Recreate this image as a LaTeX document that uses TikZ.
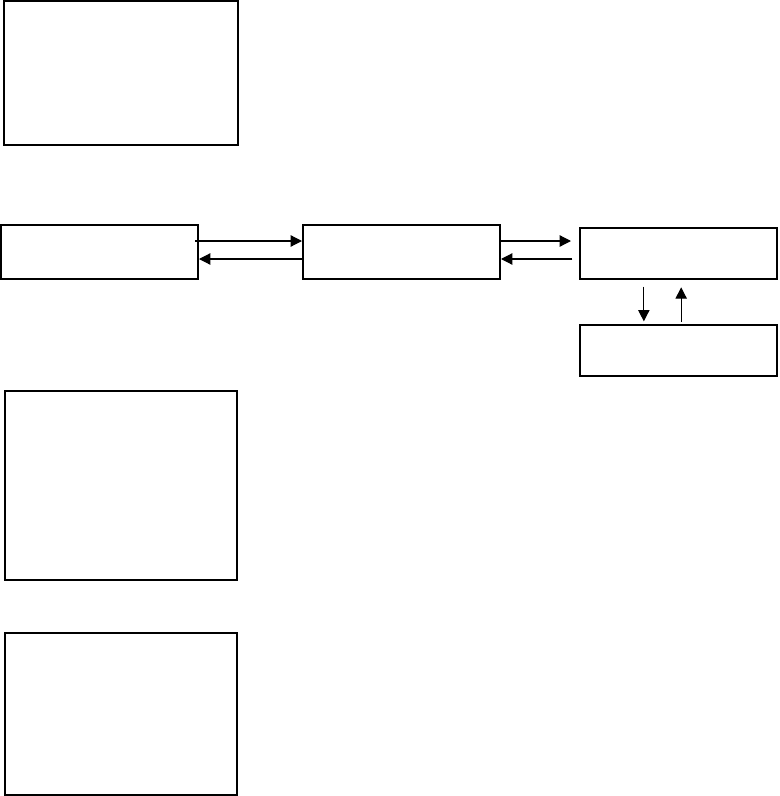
\documentclass[tikz,border=0pt]{standalone}
\usetikzlibrary{arrows.meta}
\begin{document}
\begin{tikzpicture}[x=0.75pt, y=-0.75pt,
		box/.style 2 args={draw, line width=1.5pt, inner sep=0pt, minimum width=#1*0.75pt, minimum height=#2*0.75pt},
		link/.style={line width=0.9pt, -{Triangle[length=8.5pt, width=8.5pt]}}]
		\useasboundingbox (0,0) rectangle (779,796);

		\node [box={234}{144}]	(top)	at (121, 73) {};

		\node [box={197}{54}]	(left)	at (99.5, 252) {};
		\node [box={197}{54}]	(mid)	at (401.5, 252) {};
		\node [box={197}{51}]	(right)	at (678.5, 253.5) {};
		\node [box={197}{51}]	(below)	at (678.5, 350.5) {};

		\node [box={232}{189}]	(lowa)	at (121, 485.5) {};
		\node [box={232}{162}]	(lowb)	at (121, 714) {};

		\draw [link]	([xshift=-3pt, yshift=8.25pt]left.east) to ([yshift=8.25pt]mid.west);
		\draw [link]	([yshift=-5.25pt]mid.west) to ([yshift=-5.25pt]left.east);

		\draw [link]	([yshift=8.25pt]mid.east) to ([xshift=-6pt, yshift=9.375pt]right.west);
		\draw [link]	([xshift=-5pt, yshift=-4.125pt]right.west) to ([yshift=-5.25pt]mid.east);

		\draw [link]	([xshift=-26pt, yshift=-5pt]right.south) to ([xshift=-26pt, yshift=2pt]below.north);
		\draw [link]	([xshift=2pt, yshift=1.5pt]below.north) to ([xshift=2pt, yshift=-5.5pt]right.south);
	\end{tikzpicture}
\end{document}
